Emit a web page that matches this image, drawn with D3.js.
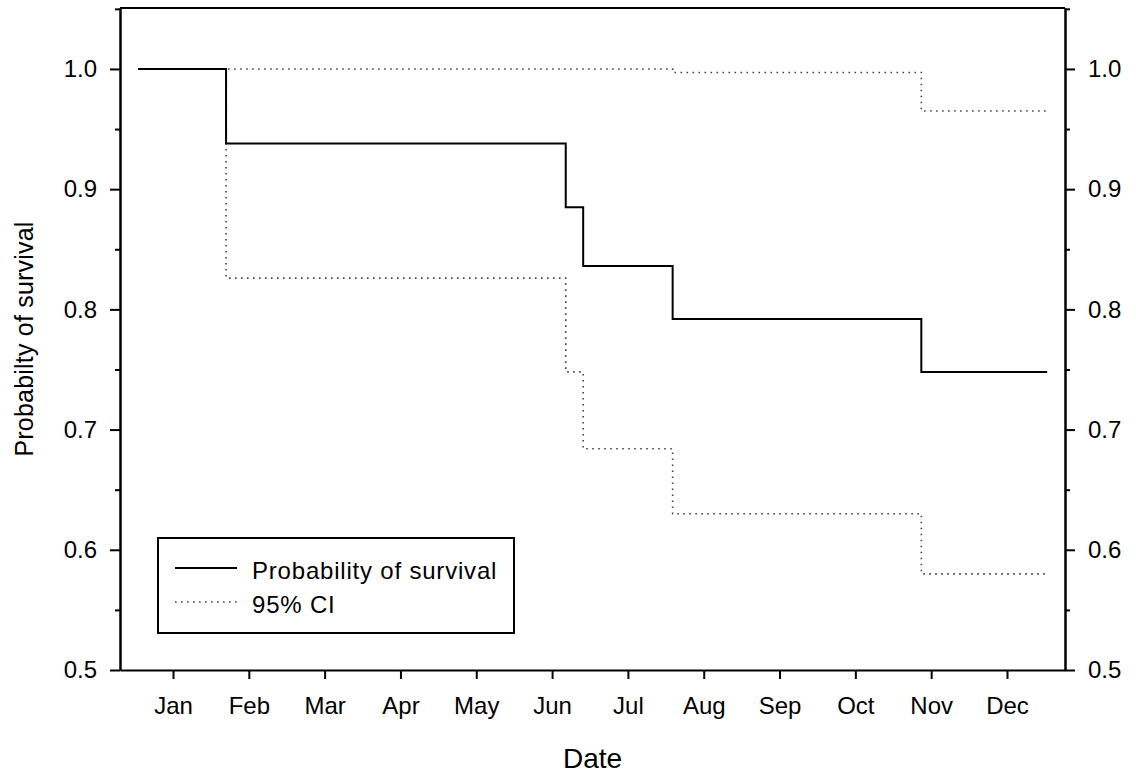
<!DOCTYPE html>
<html>
<head>
<meta charset="utf-8">
<script src="https://cdn.jsdelivr.net/npm/d3@7"></script>
<style>
  body { margin: 0; background: #fff; }
  svg text { font-family: "Liberation Sans", Arial, sans-serif; fill: #000; }
  .axis path, .axis line { stroke: #000; stroke-width: 2; }
  .axis text { font-size: 24px; }
</style>
</head>
<body>
<svg id="chart" width="1136" height="777"></svg>
<script>
"use strict";

// months are numbered 1..12, ticks sit on the month number
var monthLabels = ['Jan', 'Feb', 'Mar', 'Apr', 'May', 'Jun', 'Jul', 'Aug', 'Sep', 'Oct', 'Nov', 'Dec'];

// step times (month units) and the value after each step
var stepTimes = [0.54, 1.70, 6.18, 6.41, 7.59, 10.87, 12.53];
var survival = [1.0, 0.938, 0.885, 0.836, 0.792, 0.748, 0.748];
var ciLower  = [1.0, 0.826, 0.748, 0.684, 0.630, 0.580, 0.580];
var ciUpper  = [1.0, 1.0, 1.0, 1.0, 0.997, 0.965, 0.965];

var yTicks = [0.5, 0.6, 0.7, 0.8, 0.9, 1.0];
var yMinorTicks = [0.55, 0.65, 0.75, 0.85, 0.95, 1.05];

var margin = {top: 8, right: 71, bottom: 107, left: 120};
var svg = d3.select('#chart');
var width = +svg.attr('width') - margin.left - margin.right;
var height = +svg.attr('height') - margin.top - margin.bottom;

var g = svg.append('g').attr('transform', 'translate(' + margin.left + ',' + margin.top + ')');

var x = d3.scaleLinear().domain([0.301, 12.765]).range([0, width]);
var y = d3.scaleLinear().domain([0.5, 1.0507]).range([height, 0]);

function toPoints(values) {
    return stepTimes.map(function(t, i) { return [t, values[i]]; });
}

var line = d3.line()
    .x(function(d) { return x(d[0]); })
    .y(function(d) { return y(d[1]); })
    .curve(d3.curveStepAfter);

var dotted = '1.6,4.4';

// axes
g.append('g')
    .attr('class', 'axis')
    .call(d3.axisLeft(y).tickValues(yTicks).tickSize(10).tickSizeOuter(0).tickPadding(13)
          .tickFormat(d3.format('.1f')));
g.append('g')
    .attr('class', 'axis')
    .call(d3.axisLeft(y).tickValues(yMinorTicks).tickSize(5).tickSizeOuter(0).tickFormat(''));

g.append('g')
    .attr('class', 'axis')
    .attr('transform', 'translate(' + width + ',0)')
    .call(d3.axisRight(y).tickValues(yTicks).tickSize(10).tickSizeOuter(0).tickPadding(13)
          .tickFormat(d3.format('.1f')));
g.append('g')
    .attr('class', 'axis')
    .attr('transform', 'translate(' + width + ',0)')
    .call(d3.axisRight(y).tickValues(yMinorTicks).tickSize(5).tickSizeOuter(0).tickFormat(''));

g.append('g')
    .attr('class', 'axis')
    .attr('transform', 'translate(0,' + height + ')')
    .call(d3.axisBottom(x).tickValues(d3.range(1, 13)).tickSize(9).tickSizeOuter(0).tickPadding(18)
          .tickFormat(function(d) { return monthLabels[d - 1]; }));

// top frame line
g.append('line')
    .attr('x1', 0).attr('x2', width)
    .attr('y1', 0).attr('y2', 0)
    .attr('stroke', '#000').attr('stroke-width', 2);

// confidence band lines (dotted) then the survival curve over them
[ciLower, ciUpper].forEach(function(vals) {
    g.append('path')
        .datum(toPoints(vals))
        .attr('fill', 'none')
        .attr('stroke', '#444')
        .attr('stroke-width', 1.6)
        .attr('stroke-dasharray', dotted)
        .attr('d', line);
});

g.append('path')
    .datum(toPoints(survival))
    .attr('fill', 'none')
    .attr('stroke', '#000')
    .attr('stroke-width', 2)
    .attr('d', line);

// axis titles
svg.append('text')
    .attr('x', margin.left + width / 2)
    .attr('y', 768)
    .attr('text-anchor', 'middle')
    .attr('font-size', 28)
    .text('Date');

svg.append('text')
    .attr('transform', 'translate(33,' + (margin.top + height / 2) + ') rotate(-90)')
    .attr('text-anchor', 'middle')
    .attr('font-size', 25)
    .attr('letter-spacing', 0.2)
    .text('Probabilty of survival');

// legend
var legend = g.append('g').attr('transform', 'translate(38,530)');
legend.append('rect')
    .attr('width', 356).attr('height', 95)
    .attr('fill', '#fff').attr('stroke', '#000').attr('stroke-width', 2);

var legendItems = [
    {label: 'Probability of survival', dash: null, color: '#000', width: 2},
    {label: '95% CI', dash: dotted, color: '#444', width: 1.6}
];

legendItems.forEach(function(item, i) {
    var row = legend.append('g').attr('transform', 'translate(0,' + (30 + i * 34) + ')');
    row.append('line')
        .attr('x1', 17).attr('x2', 79)
        .attr('stroke', item.color)
        .attr('stroke-width', item.width)
        .attr('stroke-dasharray', item.dash);
    row.append('text')
        .attr('x', 94).attr('y', 11)
        .attr('font-size', 24)
        .attr('letter-spacing', 0.8)
        .text(item.label);
});
</script>
</body>
</html>
